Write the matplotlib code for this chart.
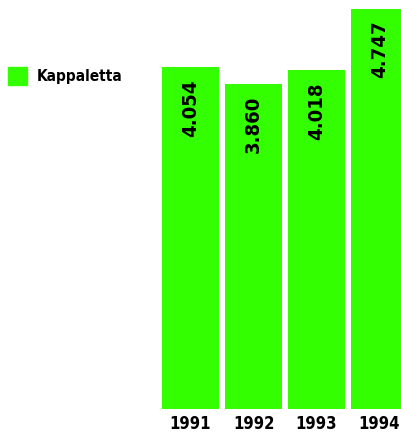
import matplotlib
matplotlib.use("Agg")
import matplotlib.pyplot as plt
import matplotlib.patches as mpatches

# dati
anni   = ['1991', '1992', '1993', '1994']
valori = [4.054, 3.860, 4.018, 4.747]
etichette = ['4.054', '3.860', '4.018', '4.747']
serie = 'Kappaletta'

VERDE = '#33FF00'
FONT  = ['DejaVu Sans']

W, H = 402, 432
fig = plt.figure(figsize=(W / 100, H / 100), dpi=100)
ax = fig.add_axes([162 / W, (H - 409) / H, (W - 162) / W, 400 / H])

pos = range(len(anni))
bars = ax.bar(pos, valori, width=0.905, color=VERDE)
ax.set_xlim(-0.4524, 3.357)
ax.set_ylim(0, 4.747)

# etichette ruotate dentro le barre
for b, t in zip(bars, etichette):
    ax.annotate(t, (b.get_x() + b.get_width() / 2, b.get_height()),
                xytext=(0, -8.5), textcoords='offset points',
                rotation=90, ha='center', va='top', fontstretch='condensed',
                fontsize=14.5, fontweight='bold', family=FONT)

ax.set_xticks(list(pos))
ax.set_xticklabels(anni, fontsize=12, fontweight='bold', family=FONT,
                   fontstretch='condensed')
ax.tick_params(axis='x', length=0, pad=4)
ax.set_yticks([])
for s in ax.spines.values():
    s.set_visible(False)

fig.legend(handles=[mpatches.Patch(color=VERDE, label=serie)],
           loc='upper left', bbox_to_anchor=(8 / W, 1 - 67 / H),
           frameon=False, borderpad=0, borderaxespad=0,
           handlelength=1.25, handleheight=1.4, handletextpad=0.6,
           prop={'family': FONT, 'weight': 'bold', 'size': 11,
                 'stretch': 'condensed'})

fig.savefig('out.png', dpi=100)
